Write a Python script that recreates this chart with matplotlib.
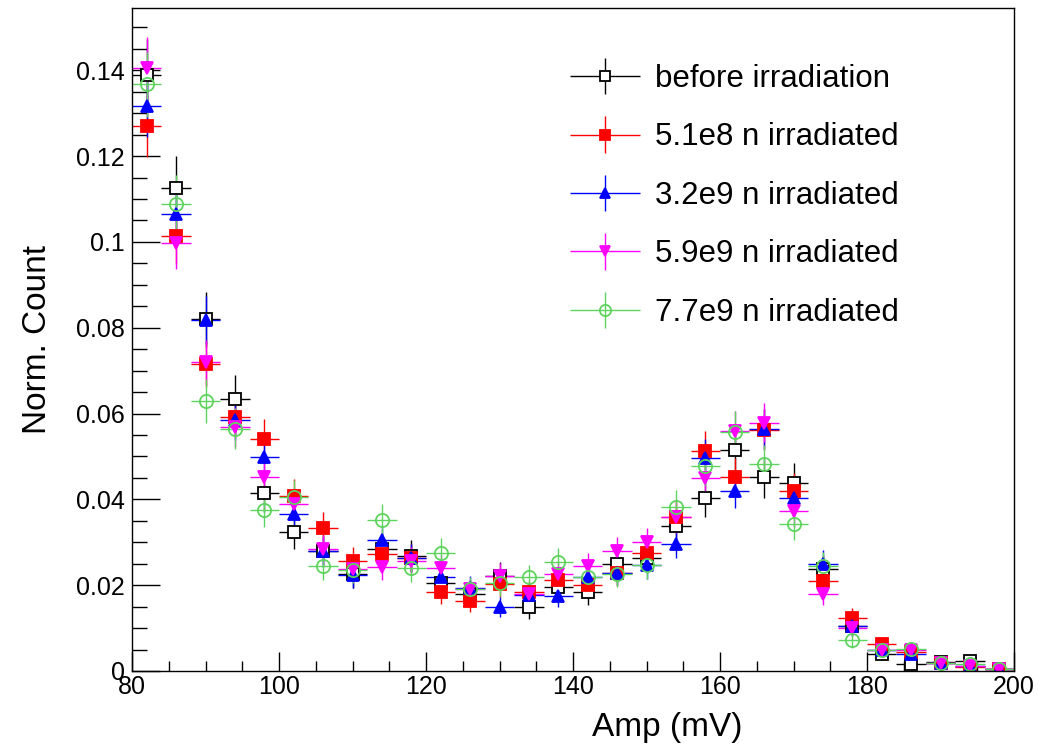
"""Normalised amplitude spectra before and after neutron irradiation."""
import numpy as np
import matplotlib
matplotlib.use('Agg')
import matplotlib.pyplot as plt
from matplotlib.ticker import MultipleLocator, FuncFormatter
from matplotlib.container import ErrorbarContainer
from matplotlib.legend_handler import HandlerErrorbar

plt.rcParams['font.family'] = ['Liberation Sans', 'DejaVu Sans']

# bin centres (mV), bin width 4 mV
amp = np.arange(82, 200, 4)
half_width = 2.0

before = [0.1390, 0.1126, 0.0820, 0.0634, 0.0415, 0.0324, 0.0280, 0.0227,
          0.0284, 0.0268, 0.0206, 0.0179, 0.0221, 0.0148, 0.0196, 0.0183,
          0.0249, 0.0264, 0.0337, 0.0404, 0.0516, 0.0451, 0.0437, 0.0237,
          0.0105, 0.0039, 0.0016, 0.0020, 0.0023, 0.0004]
irr_5p1e8 = [0.1270, 0.1013, 0.0716, 0.0593, 0.0541, 0.0408, 0.0333, 0.0257,
             0.0272, 0.0263, 0.0183, 0.0163, 0.0202, 0.0183, 0.0212, 0.0201,
             0.0228, 0.0276, 0.0359, 0.0513, 0.0453, 0.0562, 0.0420, 0.0210,
             0.0124, 0.0062, 0.0045, 0.0019, 0.0010, 0.0004]
irr_3p2e9 = [0.1316, 0.1066, 0.0817, 0.0585, 0.0498, 0.0366, 0.0280, 0.0223,
             0.0305, 0.0263, 0.0218, 0.0193, 0.0149, 0.0178, 0.0175, 0.0218,
             0.0229, 0.0246, 0.0297, 0.0496, 0.0420, 0.0565, 0.0404, 0.0250,
             0.0104, 0.0050, 0.0040, 0.0019, 0.0011, 0.0004]
irr_5p9e9 = [0.1405, 0.0997, 0.0719, 0.0568, 0.0452, 0.0389, 0.0284, 0.0237,
             0.0243, 0.0257, 0.0241, 0.0191, 0.0222, 0.0179, 0.0226, 0.0245,
             0.0280, 0.0301, 0.0358, 0.0450, 0.0560, 0.0579, 0.0372, 0.0179,
             0.0101, 0.0048, 0.0049, 0.0019, 0.0012, 0.0004]
irr_7p7e9 = [0.1367, 0.1089, 0.0630, 0.0565, 0.0376, 0.0405, 0.0245, 0.0236,
             0.0352, 0.0240, 0.0276, 0.0191, 0.0204, 0.0218, 0.0253, 0.0219,
             0.0226, 0.0246, 0.0383, 0.0478, 0.0558, 0.0482, 0.0342, 0.0245,
             0.0072, 0.0048, 0.0051, 0.0019, 0.0017, 0.0004]

# total entries per histogram (sets the Poisson error of each bin)
entries = [2000, 2500, 2600, 2700, 2400]

labels = ['before irradiation', '5.1e8 n irradiated', '3.2e9 n irradiated',
          '5.9e9 n irradiated', '7.7e9 n irradiated']
series = [before, irr_5p1e8, irr_3p2e9, irr_5p9e9, irr_7p7e9]

styles = [
    dict(color='black', marker='s', mfc='white', ms=8.5),
    dict(color='#ff0000', marker='s', mfc='#ff0000', ms=8.5),
    dict(color='#0000ff', marker='^', mfc='#0000ff', ms=8),
    dict(color='#ff00ff', marker='v', mfc='#ff00ff', ms=8),
    dict(color='#5ed35e', marker='o', mfc='none', ms=9.5),
]

fig = plt.figure(figsize=(10.38, 7.46), dpi=100)
ax = fig.add_axes([132 / 1038, 1 - 671 / 746, 882 / 1038, 663 / 746])

handles = []
for vals, n, st, lab in zip(series, entries, styles, labels):
    vals = np.asarray(vals)
    yerr = np.sqrt(vals / n)
    h = ax.errorbar(amp, vals, xerr=half_width, yerr=yerr, ls='none',
                    color=st['color'], marker=st['marker'], ms=st['ms'],
                    mfc=st['mfc'], mec=st['color'], mew=1.3, elinewidth=1.0,
                    capsize=0, label=lab)
    handles.append(h)

ax.set_xlim(80, 200)
ax.set_ylim(0, 0.1545)

ax.xaxis.set_major_locator(MultipleLocator(20))
ax.xaxis.set_minor_locator(MultipleLocator(5))
ax.yaxis.set_major_locator(MultipleLocator(0.02))
ax.yaxis.set_minor_locator(MultipleLocator(0.005))
ax.yaxis.set_major_formatter(FuncFormatter(lambda v, p: '%g' % round(v, 4)))
ax.xaxis.set_major_formatter(FuncFormatter(lambda v, p: '%g' % v))

ax.tick_params(axis='x', which='major', direction='in', length=13.5,
               width=1.0, labelsize=18, pad=3)
ax.tick_params(axis='x', which='minor', direction='in', length=7.5, width=1.0)
ax.tick_params(axis='y', which='major', direction='in', length=20,
               width=1.0, labelsize=18, pad=5)
ax.tick_params(axis='y', which='minor', direction='in', length=10.5, width=1.0)
for sp in ax.spines.values():
    sp.set_linewidth(1.0)

ax.set_xlabel('Amp (mV)', fontsize=24)
ax.xaxis.set_label_coords(0.6066, -0.062)
ax.set_ylabel('Norm. Count', fontsize=24)
ax.yaxis.set_label_coords(-0.09, 0.5)

ax.legend(handles=handles, loc='upper left',
          bbox_to_anchor=(569 / 1038, 1 - 64 / 746),
          bbox_transform=fig.transFigure, frameon=False, fontsize=22.5,
          handlelength=2.3, handletextpad=0.45, labelspacing=0.91,
          borderpad=0, borderaxespad=0, markerscale=0.85,
          handler_map={ErrorbarContainer: HandlerErrorbar(xerr_size=1.13,
                                                          yerr_size=0.58)})

fig.savefig('out.png', dpi=100)
